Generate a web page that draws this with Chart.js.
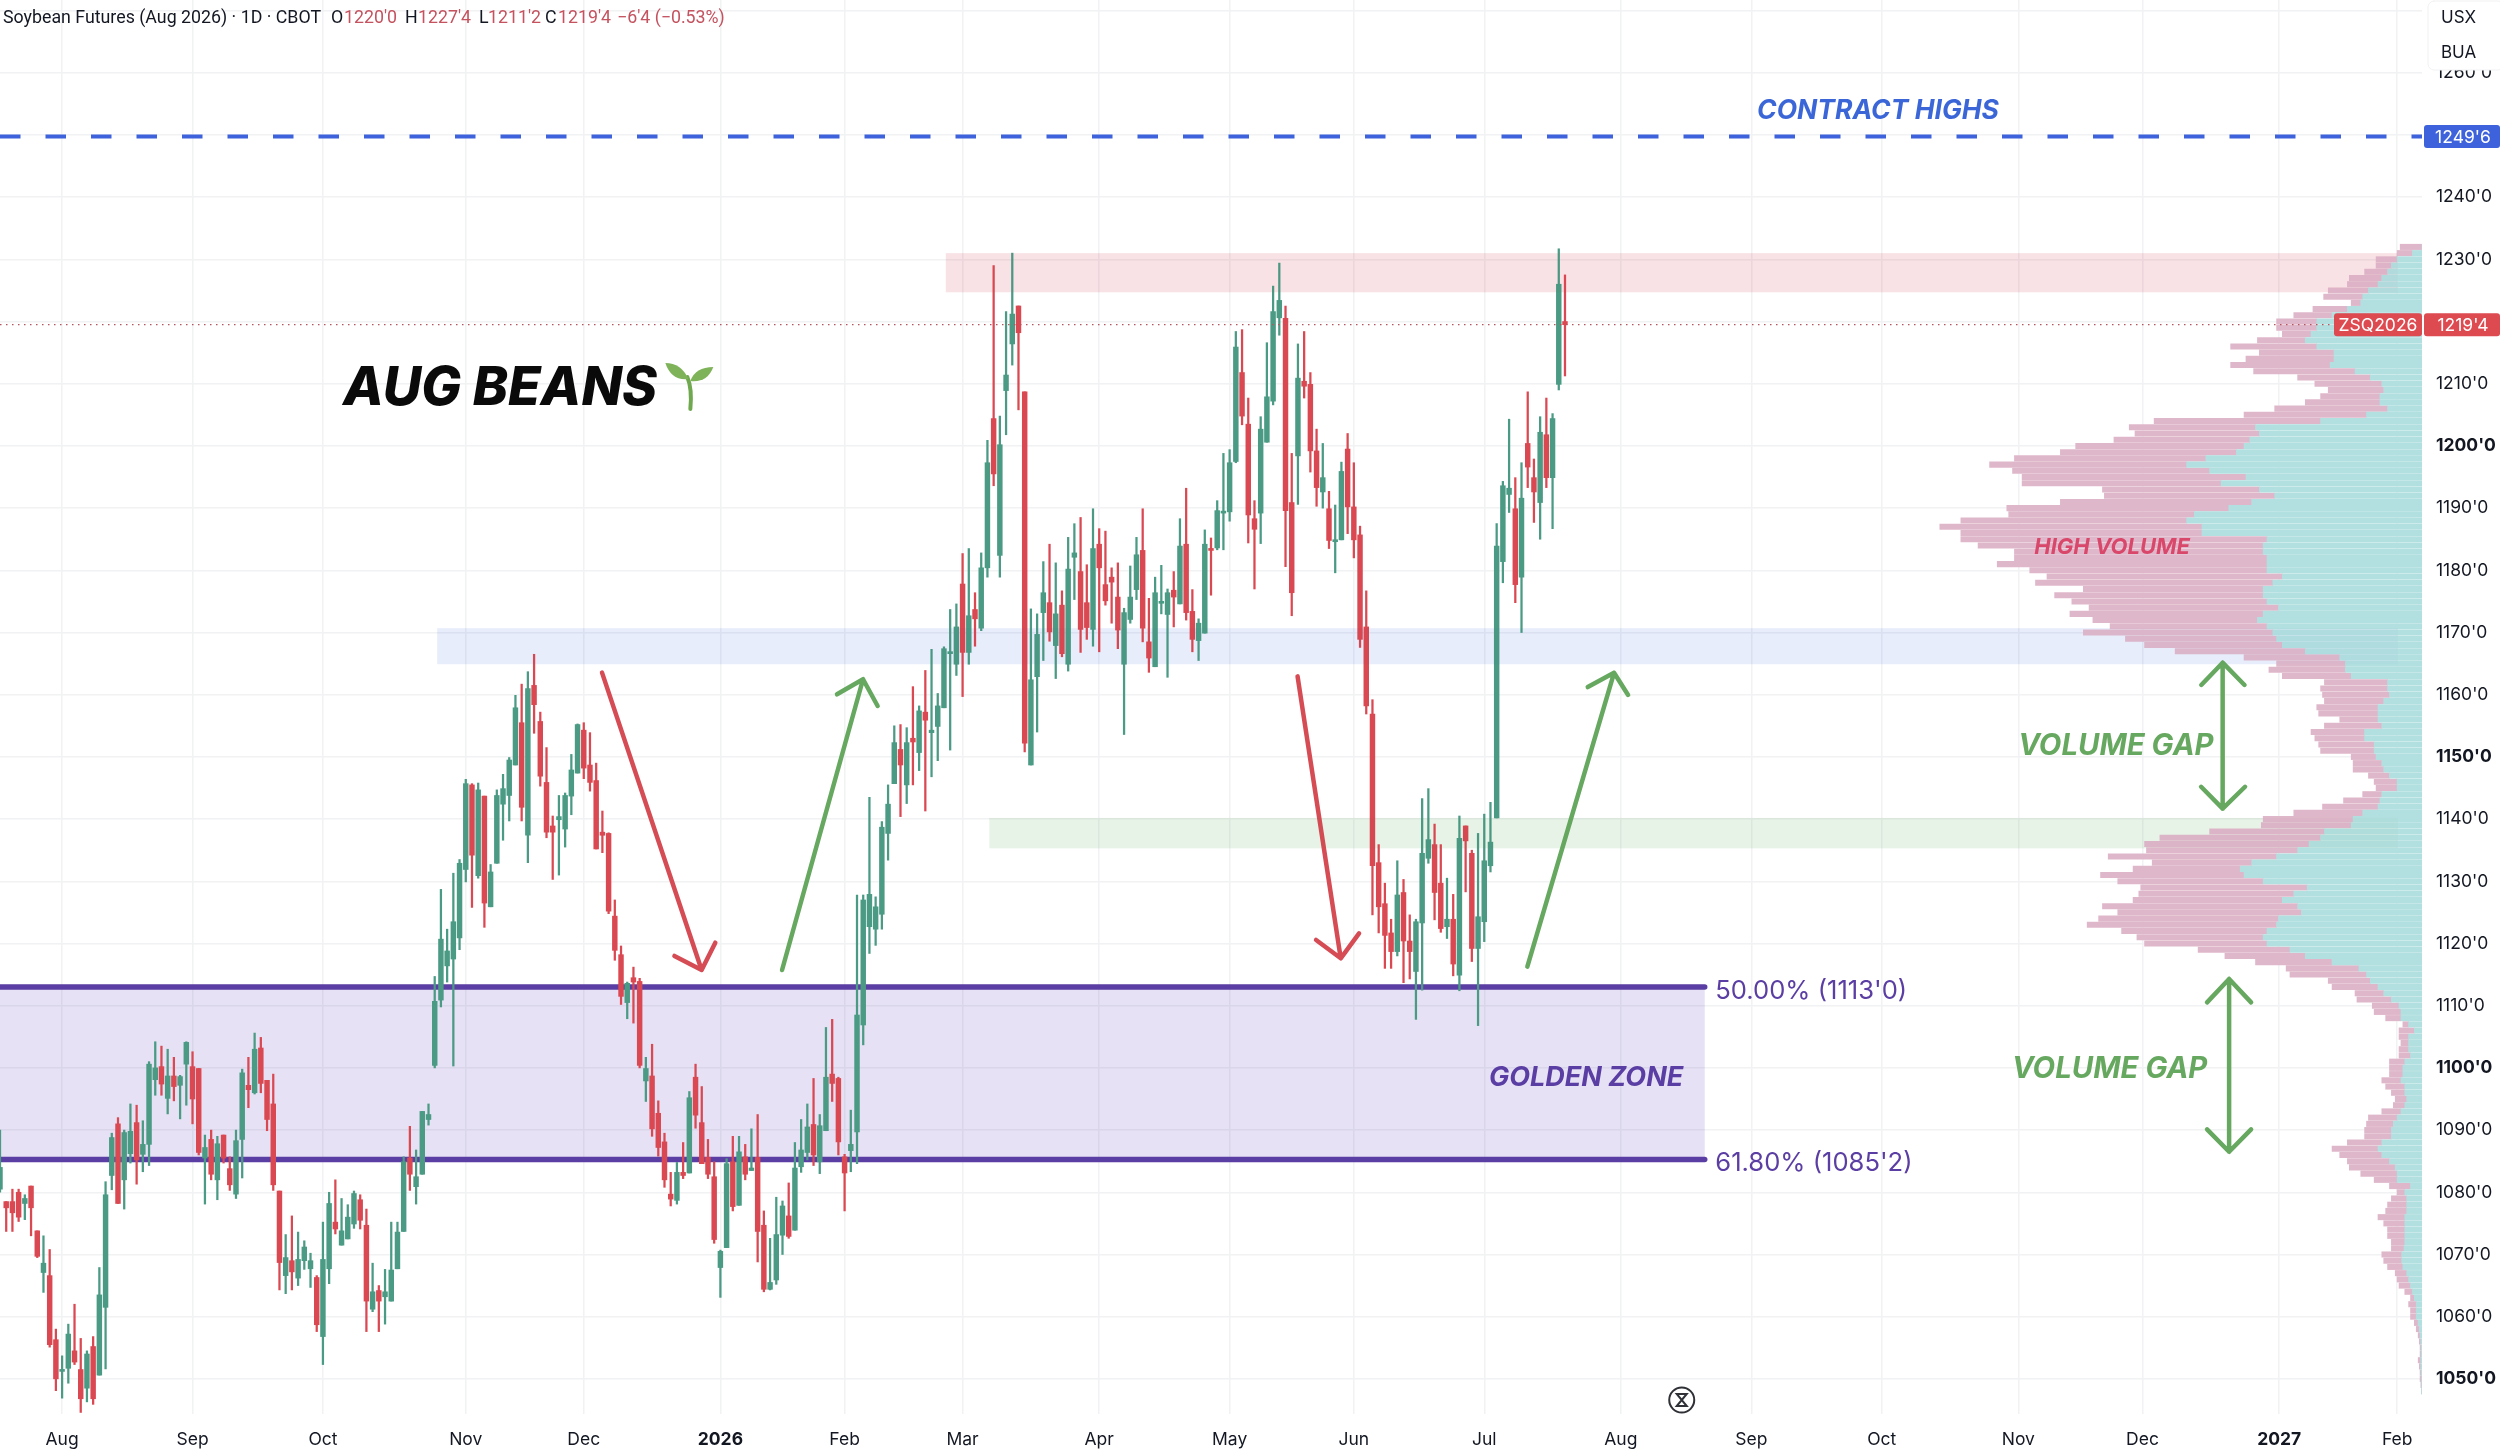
<!DOCTYPE html>
<html>
<head>
<meta charset="utf-8">
<title>Soybean Futures (Aug 2026)</title>
<script src="https://cdn.jsdelivr.net/npm/chart.js@4/dist/chart.umd.min.js"></script>
<style>
  html, body { margin: 0; padding: 0; background: #fff; }
  canvas { display: block; }
</style>
</head>
<body>
<canvas id="chart" width="2500" height="1452"></canvas>
<script>
// Daily candles, one entry per trading day
const opens = [
  1080.5,1078.5,1078.5,1080,1078.2,1081,1073.8,1067.1,1066.6,1056.3,
  1051.2,1051.7,1054.5,1051.5,1048.5,1055.2,1050.6,1061.5,1082.7,1091,
  1082,1086.2,1091.2,1086.1,1087.7,1098.1,1100.2,1095.1,1098.7,1097.2,
  1100.6,1100.2,1099.9,1085.5,1088.5,1082,1089.2,1083.8,1079.7,1088.5,
  1097.2,1096,1103.2,1098,1094.2,1080.2,1066.6,1069,1066.2,1069,
  1067.7,1066.3,1056.8,1067.7,1075.2,1071.5,1072.5,1074.9,1078.8,1074.7,
  1061.2,1064.2,1063.2,1062.5,1067.7,1073.7,1085.5,1080.9,1082.9,1091.7,
  1100.4,1110.9,1116.4,1117.5,1120.9,1131.9,1145.5,1130.9,1143.7,1125.9,
  1132.9,1142.4,1143.8,1148.7,1155.5,1137.4,1161.5,1155.7,1145.9,1138.9,
  1139.9,1138.4,1143.7,1147.4,1154.3,1148.7,1146.2,1137.9,1137.7,1124.4,
  1118.2,1110.5,1114.5,1113.9,1097.9,1098.7,1092.7,1088.1,1079.7,1078.7,
  1083.2,1083.1,1098.5,1091.2,1085.6,1082.5,1067.9,1071.1,1084.9,1077.9,
  1085.7,1083.5,1085.6,1074.7,1064.4,1065.9,1073.1,1076.2,1073.9,1084.1,
  1086.4,1090.9,1084.9,1089.9,1099,1098.3,1085.7,1086.7,1089.7,1106.9,
  1122.7,1122.3,1124.7,1137.7,1145.7,1151.2,1145.5,1153,1150.7,1157.2,
  1153.9,1154.9,1157.9,1166.6,1164.9,1177.8,1166.8,1173.7,1170.7,1180.4,
  1204.4,1182.4,1208.9,1216.4,1222.5,1208.7,1148.7,1162.9,1173.2,1174.8,
  1167.9,1174.4,1164.9,1182.1,1179.8,1174.8,1170.5,1184.2,1177.7,1178.9,
  1175.7,1164.9,1172.1,1176.9,1183.2,1168.5,1164.5,1174.7,1172.9,1176.8,
  1174.6,1184.2,1173.4,1168.7,1169.9,1183.5,1183.6,1189.2,1189.4,1197.5,
  1211.8,1203.5,1188.3,1189.2,1200.6,1207.2,1220.6,1220.5,1190.9,1198.4,
  1210.4,1209.9,1199.2,1192.6,1189.9,1184.6,1184.9,1199.5,1190.2,1185.7,
  1170.9,1156.9,1133,1126.4,1121.7,1118.7,1128.2,1120.4,1115.5,1123.3,
  1133.7,1135.9,1129.7,1122.7,1123.9,1114.9,1138.9,1134.5,1119.2,1123.5,
  1132.5,1140.2,1181.4,1192.2,1189.9,1178.9,1200.4,1194.9,1190.9,1201.8,
  1194.9,1209.9,1220
];
const closes = [
  1084,1077.5,1076.7,1076,1079,1077.5,1069.7,1068.6,1055.5,1050,
  1051.5,1057.2,1052.7,1046.8,1054,1046.8,1063.5,1079.6,1088.8,1078.2,
  1089.6,1089.8,1085.2,1087.7,1100.6,1100,1097.4,1098.7,1097,1098.6,
  1104.1,1095,1086.4,1087.2,1082.9,1087.8,1085.5,1081.2,1088.3,1099.2,
  1096.5,1103,1097.5,1091.7,1081.2,1068.7,1069.5,1067.2,1069.2,1071.2,
  1069,1058.7,1069.2,1078.2,1074.1,1073.8,1076,1079.8,1075.5,1062.5,
  1064,1062.5,1064,1067.5,1073.6,1084.9,1082.9,1082.5,1093,1092.5,
  1110.7,1120.7,1118.8,1123.5,1132.9,1145.7,1134.2,1144.7,1126.5,1131.5,
  1143.8,1144.9,1149.5,1157.9,1141.9,1161,1158.4,1146.9,1137.9,1137.9,
  1140.4,1143.8,1147.9,1155.2,1148.2,1145.9,1135.2,1137.4,1125.2,1118.9,
  1111.5,1113.6,1113.8,1100.4,1099.9,1090.2,1087.2,1082,1078.9,1083.2,
  1082.7,1095.2,1092.4,1084.6,1082.9,1072.4,1070.5,1084.6,1077.7,1086.5,
  1082.9,1083.9,1073.7,1064.4,1065.5,1073.2,1077.8,1072.9,1083.9,1086.8,
  1090.5,1086,1090.7,1098.5,1097.5,1088.1,1083.1,1087.7,1108.5,1127,
  1127.9,1125.9,1138.7,1142.4,1152.3,1148.7,1152.3,1152.4,1157.4,1155.9,
  1154.3,1158.2,1167.4,1166.9,1170.9,1166.8,1172.7,1172.2,1180.4,1197.3,
  1195.5,1200.2,1211.4,1221.2,1218.2,1152.2,1162.4,1169.7,1176.4,1170.1,
  1173,1166.6,1180.2,1182.8,1170.5,1170.8,1183.5,1180.4,1175.1,1178.1,
  1170.4,1173.2,1175.7,1182.5,1170.7,1165.9,1176.4,1174.8,1176.4,1175.7,
  1183.9,1173.2,1168.9,1171.5,1184.2,1183.2,1189.6,1189.3,1197.3,1215.9,
  1204.8,1188.9,1186.6,1202.7,1207.9,1221.6,1223.4,1189.6,1176.4,1210.9,
  1209.6,1199.2,1193.3,1194.9,1184.8,1184.8,1195.9,1190.2,1184.9,1168.9,
  1158.2,1132.5,1125.9,1121.3,1118.7,1127.8,1120.4,1118.7,1123.5,1134.5,
  1136.7,1128.2,1122.4,1123.9,1116.7,1136.9,1136.5,1119.2,1124.3,1133.3,
  1136.3,1183.9,1193.6,1193.2,1177.7,1191.6,1196.6,1192.6,1202.2,1194.9,
  1204.4,1226,1219.5
];
const highs = [
  1090,1078.5,1080.5,1080.5,1079.6,1081,1073.8,1073,1070.8,1058,
  1053.7,1058.8,1062,1056.5,1054.5,1056.8,1067.9,1081.7,1089.5,1092,
  1090,1094.2,1094,1091.5,1101,1104.2,1103.5,1103,1101.7,1098.8,
  1104.2,1102.6,1099.9,1089.2,1090,1089,1089.2,1085.7,1090,1099.8,
  1101.7,1105.6,1104.9,1098,1099,1080.2,1073.2,1076.2,1073.6,1072.2,
  1070.2,1066.6,1075.2,1080,1082,1079,1078,1080.2,1079.6,1077.3,
  1068.6,1065,1067.6,1075.2,1075.2,1085.7,1090.6,1086.8,1093,1094.2,
  1114.7,1128.7,1122.3,1131.3,1133.5,1146.4,1145.7,1145.8,1143.7,1132.7,
  1144.7,1147.2,1149.9,1159.9,1161.7,1163.7,1166.5,1157.2,1151.5,1140.5,
  1143.8,1144.2,1150.4,1155.3,1155.5,1153.9,1149,1141.3,1137.8,1127,
  1119.6,1113.8,1116.2,1114.4,1101.7,1103.8,1094.7,1089.5,1083.2,1084.8,
  1088,1096.2,1100.6,1097,1088.5,1084.9,1070.7,1085.4,1089,1089,
  1087.7,1090.2,1092.5,1077,1072.6,1079.2,1078.6,1081.5,1088,1091.7,
  1094.2,1098.3,1092.5,1106.5,1107.8,1098.5,1086.1,1093.2,1127.8,1127.8,
  1143.5,1127.5,1139.6,1145.5,1155,1155.2,1154.7,1161.3,1158.2,1163.9,
  1167.3,1160.2,1167.7,1173.7,1174.6,1182.7,1183.5,1176.4,1182.8,1200.9,
  1229,1204.8,1221.6,1231,1222.5,1208.7,1173.8,1173,1181.4,1184.2,
  1181.2,1176.7,1185.3,1187.5,1188.5,1180.9,1189.9,1186.7,1186.3,1180.4,
  1181.2,1173.9,1180.7,1185.3,1189.9,1175.5,1178.9,1180.8,1177,1179.8,
  1188.3,1193.2,1176.9,1172.2,1186.5,1185.2,1191.2,1198.8,1199.4,1218.4,
  1218.7,1207.7,1191.2,1204.7,1216.6,1225.7,1229.4,1222.5,1198.8,1216.4,
  1218.4,1211.8,1202.7,1200.4,1192.7,1190.5,1197.4,1202,1197.3,1187.1,
  1176.7,1159.2,1135.9,1129.7,1123.9,1133.3,1130.3,1124.6,1123.9,1143.3,
  1144.9,1139.2,1135.9,1130.5,1127.9,1140.5,1138.9,1135,1137.7,1140.8,
  1142.7,1187.5,1194.3,1204.3,1194.9,1197.3,1208.7,1197.9,1204.7,1207.7,
  1205.2,1231.7,1227.5
];
const lows = [
  1080,1073.7,1073.7,1075.3,1075.6,1073,1069.5,1063.9,1055.1,1048.1,
  1046.9,1049.3,1052.3,1044.6,1046.3,1045.9,1050.6,1051.6,1080.4,1078.2,
  1077.3,1084.7,1081.3,1083.3,1084.3,1095.6,1095.6,1092.6,1094.7,1091.8,
  1094,1091,1086,1078.1,1082,1078.8,1084.7,1080.3,1079,1082.3,
  1093.6,1095.8,1096,1089.9,1080.3,1064.3,1063.7,1064.3,1065,1067.6,
  1064.7,1057.6,1052.3,1065.3,1073.3,1071.5,1072.5,1074.2,1074.1,1057.6,
  1060.8,1057.6,1058.8,1062.5,1067.7,1073.7,1080.3,1078.1,1082.9,1090.8,
  1100,1109.8,1113.8,1100.3,1119,1129.9,1125.8,1130.5,1122.6,1125.9,
  1132.9,1136.6,1139.7,1148.7,1139.7,1133,1153.8,1145.3,1137,1130.3,
  1131,1135.5,1140.7,1147.4,1146.5,1144.5,1135.2,1134.6,1124.8,1117.3,
  1110.2,1107.9,1107.2,1100,1094.6,1089,1085.8,1080.8,1077.8,1078.1,
  1082.2,1083.1,1090.3,1084.6,1082.2,1071.8,1063.1,1071.1,1077,1077.9,
  1082,1083.5,1068.8,1064,1064.3,1065.2,1070,1072.6,1073.9,1083.2,
  1085.2,1084.3,1083,1089.9,1094.6,1086,1077,1083.3,1084.6,1103.7,
  1118.4,1119.7,1122.3,1133.4,1145.7,1140.4,1142.5,1145.5,1147.8,1141.3,
  1146.8,1149.4,1157.9,1151.1,1163.1,1159.7,1164.9,1167.8,1170.3,1178.9,
  1193.6,1178.9,1201.8,1213,1205.8,1150.8,1148.7,1154,1165.5,1168.6,
  1162.6,1166.1,1163.8,1175.3,1166.8,1168.9,1167.8,1166.9,1174.4,1171.5,
  1167.4,1153.6,1171.5,1175.3,1168.5,1163.6,1164.5,1173,1162.8,1170.9,
  1174.6,1172,1166.9,1165.5,1169.9,1176,1183.3,1183.3,1187.9,1197.3,
  1203.4,1184.4,1177,1184.3,1200.6,1206.6,1217.8,1180.6,1172.7,1190.6,
  1207.7,1195.8,1190.3,1190,1183.5,1179.6,1184.9,1185.9,1182,1167.6,
  1156.9,1124.6,1121.7,1116,1116,1118,1113.7,1114.3,1107.8,1112.5,
  1132.9,1123.8,1121.8,1120.8,1114.8,1112.4,1128.3,1117.1,1106.8,1120.3,
  1131.5,1140.2,1178,1189.3,1174.8,1170,1193.3,1187.7,1185,1193.3,
  1186.7,1209,1211.25
];

// Volume profile, one row per price, relative volume
const profilePrices = [
  1232,1231,1230,1229,1228,1227,1226,1225,1224,1223,1222,1221,1220,1219,1218,1217,1216,1215,1214,1213,
  1212,1211,1210,1209,1208,1207,1206,1205,1204,1203,1202,1201,1200,1199,1198,1197,1196,1195,1194,1193,
  1192,1191,1190,1189,1188,1187,1186,1185,1184,1183,1182,1181,1180,1179,1178,1177,1176,1175,1174,1173,
  1172,1171,1170,1169,1168,1167,1166,1165,1164,1163,1162,1161,1160,1159,1158,1157,1156,1155,1154,1153,
  1152,1151,1150,1149,1148,1147,1146,1145,1144,1143,1142,1141,1140,1139,1138,1137,1136,1135,1134,1133,
  1132,1131,1130,1129,1128,1127,1126,1125,1124,1123,1122,1121,1120,1119,1118,1117,1116,1115,1114,1113,
  1112,1111,1110,1109,1108,1107,1106,1105,1104,1103,1102,1101,1100,1099,1098,1097,1096,1095,1094,1093,
  1092,1091,1090,1089,1088,1087,1086,1085,1084,1083,1082,1081,1080,1079,1078,1077,1076,1075,1074,1073,
  1072,1071,1070,1069,1068,1067,1066,1065,1064,1063,1062,1061,1060,1059,1058,1057,1056,1055,1054,1053,
  1052,1051,1050,1049,1048
];
const upVolume = [
  0,25,65,80,90,105,115,140,155,160,195,235,275,275,290,305,275,230,230,240,
  175,135,105,100,110,110,90,145,265,435,425,450,465,485,565,615,555,460,525,425,
  385,445,505,595,615,575,575,405,415,415,405,405,405,365,390,415,415,405,375,415,
  430,405,390,380,365,305,215,200,200,185,90,90,85,100,115,115,115,105,150,150,
  125,125,120,105,100,85,65,65,105,110,115,155,180,185,255,265,295,325,380,445,
  475,465,415,300,335,365,325,315,375,380,405,415,405,345,305,235,165,145,135,115,
  100,80,60,55,55,35,20,35,35,35,30,45,50,50,55,45,45,40,45,55,
  65,75,80,80,105,115,105,85,70,65,65,30,45,40,40,40,45,45,45,45,
  45,47,53,53,50,40,35,30,25,20,15,15,15,10,7,5,3,2,2,3,
  3,2,1,1,1
];
const downVolume = [
  57,40,55,40,60,85,80,105,102,25,90,100,105,105,75,125,225,195,230,260,
  265,190,175,145,155,195,295,320,435,330,325,355,440,460,500,515,515,585,520,410,
  445,500,580,485,590,685,630,800,745,650,660,705,620,615,620,470,545,510,495,505,
  430,410,495,395,360,340,250,180,200,180,165,175,175,155,160,155,100,150,140,130,
  145,140,65,75,80,55,60,55,50,95,145,180,235,235,300,420,430,395,440,260,
  280,375,380,435,405,390,510,480,470,495,380,330,320,240,210,200,190,200,110,120,
  75,90,70,70,40,15,40,25,20,25,30,40,35,35,50,50,35,30,30,50,
  75,70,70,70,90,120,110,110,120,95,60,55,20,40,50,55,70,55,45,45,
  35,33,52,47,40,30,30,30,20,10,20,15,15,10,8,5,4,3,3,7,
  4,3,4,2,0
];

// Axis ticks
const monthBars = [10,31,52,75,94,116,136,155,177,198,218,239,261,282,303,325,345,367,386];
const monthLabels = ['Aug','Sep','Oct','Nov','Dec','2026','Feb','Mar','Apr','May','Jun','Jul','Aug','Sep','Oct','Nov','Dec','2027','Feb'];
const priceTicks = [1050,1060,1070,1080,1090,1100,1110,1120,1130,1140,1150,1160,1170,1180,1190,1200,1210,1220,1230,1240,1250,1260,1270];

// Levels
const contractHigh = 1249.75;
const lastPrice = 1219.5;
const fibHigh = 1113;
const fibLow = 1085.25;

// Shaded zones: first bar, last bar, low price, high price
const resistanceZone = [152.3, 386.1, 1224.7, 1231];
const midZone = [70.4, 386.1, 1164.9, 1170.7];
const supportZone = [159.3, 386.1, 1135.3, 1140.2];
const goldenZone = [0, 274.5, fibLow, fibHigh];

// Hand drawn arrows: [bar, price] along each stroke
const redArrow1 = [[96.94,1163.55],[112.98,1115.74],[108.6,1118],[112.98,1115.74],[115.18,1120.13]];
const greenArrow1 = [[125.93,1115.74],[138.97,1162.49],[134.78,1160.07],[138.97,1162.49],[141.32,1158.19]];
const redArrow2 = [[208.94,1162.95],[215.89,1117.62],[211.92,1120.57],[215.89,1117.62],[218.84,1121.64]];
const greenArrow2 = [[245.94,1116.27],[259.9,1163.52],[255.67,1161.23],[259.9,1163.52],[262.16,1159.96]];
const gapArrow1 = [[354.46,1161.57],[357.9,1165.15],[361.42,1161.57],[357.9,1165.15],[357.9,1141.68],[354.43,1145.2],[357.9,1141.68],[361.51,1145.2]];
const gapArrow2 = [[355.39,1110.53],[358.94,1114.3],[362.48,1110.53],[358.94,1114.3],[358.94,1086.51],[355.39,1090.11],[358.94,1086.51],[362.48,1090.11]];

const GREEN = '#4a9a84';
const RED = '#da4852';
const PURPLE = '#5b3ea3';
const ARROW_GREEN = '#66a85f';
const ARROW_RED = '#d64c55';
const BLUE = '#3d62dc';
const ZONE_RED = '#fae7e9';
const ZONE_BLUE = '#ebf0fc';
const ZONE_GREEN = '#ecf5ec';
const FONT = 'Inter, "Liberation Sans", sans-serif';

const candleColors = opens.map((o, i) => (closes[i] >= o ? GREEN : RED));

function strokeDataset(points, color, width, order, dash) {
  return {
    type: 'line',
    data: points.map(([x, y]) => ({ x, y })),
    borderColor: color,
    borderWidth: width,
    borderDash: dash || [],
    borderCapStyle: dash ? 'butt' : 'round',
    borderJoinStyle: 'round',
    pointRadius: 0,
    tension: 0,
    order,
  };
}

function fillZone(chart, [x0, x1, lo, hi], color) {
  const { ctx, scales: { x, y } } = chart;
  ctx.fillStyle = color;
  ctx.fillRect(x.getPixelForValue(x0), y.getPixelForValue(hi),
    x.getPixelForValue(x1) - x.getPixelForValue(x0), y.getPixelForValue(lo) - y.getPixelForValue(hi));
}

// Zones, notes and the price labels that are not part of the scales
const overlayPlugin = {
  id: 'overlay',
  beforeDatasetsDraw(chart) {
    fillZone(chart, goldenZone, 'rgba(88,55,182,0.15)');
    chart.ctx.save();
    chart.ctx.globalCompositeOperation = 'multiply';
    fillZone(chart, resistanceZone, ZONE_RED);
    fillZone(chart, midZone, ZONE_BLUE);
    fillZone(chart, supportZone, ZONE_GREEN);
    chart.ctx.restore();
  },
  afterDatasetsDraw(chart) {
    // the zones show faintly through the profile
    const { ctx } = chart;
    ctx.save();
    ctx.globalCompositeOperation = 'multiply';
    ctx.globalAlpha = 0.2;
    fillZone(chart, resistanceZone, ZONE_RED);
    fillZone(chart, midZone, ZONE_BLUE);
    fillZone(chart, supportZone, ZONE_GREEN);
    ctx.restore();
  },
  afterDraw(chart) {
    const { ctx, scales: { x, y } } = chart;
    const text = (str, bar, price, font, color, align) => {
      ctx.font = font;
      ctx.fillStyle = color;
      ctx.textAlign = align || 'center';
      ctx.textBaseline = 'middle';
      ctx.fillText(str, x.getPixelForValue(bar), y.getPixelForValue(price) + 3);
    };
    ctx.save();
    text('CONTRACT HIGHS', 302.4, 1254.35, 'italic 700 26.5px ' + FONT, '#3b66d8');
    text('AUG BEANS', 80.5, 1209.6, 'italic 800 53px ' + FONT, '#0a0a0a');
    text("50.00% (1113'0)", 276.2, 1112.8, '25.6px ' + FONT, PURPLE, 'left');
    text("61.80% (1085'2)", 276.2, 1085.1, '25.6px ' + FONT, PURPLE, 'left');
    text('GOLDEN ZONE', 255.4, 1098.9, 'italic 700 27px ' + FONT, PURPLE);
    text('HIGH VOLUME', 340.1, 1184.2, 'italic 700 22px ' + FONT, '#d9476a');
    text('VOLUME GAP', 340.7, 1152.2, 'italic 700 29.3px ' + FONT, ARROW_GREEN);
    text('VOLUME GAP', 339.7, 1100.2, 'italic 700 29.3px ' + FONT, ARROW_GREEN);

    // sprout next to the title
    const sx = x.getPixelForValue(111), sy = y.getPixelForValue(1209.8);
    ctx.strokeStyle = '#6fa84f';
    ctx.fillStyle = '#7fb35a';
    ctx.lineWidth = 4;
    ctx.lineCap = 'round';
    ctx.beginPath();
    ctx.moveTo(sx + 1, sy + 24);
    ctx.quadraticCurveTo(sx + 3, sy + 4, sx - 2, sy - 8);
    ctx.stroke();
    ctx.beginPath();
    ctx.moveTo(sx - 1, sy - 6);
    ctx.quadraticCurveTo(sx - 8, sy - 22, sx - 24, sy - 22);
    ctx.quadraticCurveTo(sx - 18, sy - 4, sx - 1, sy - 6);
    ctx.fill();
    ctx.beginPath();
    ctx.moveTo(sx + 1, sy - 4);
    ctx.quadraticCurveTo(sx + 6, sy - 18, sx + 24, sy - 18);
    ctx.quadraticCurveTo(sx + 18, sy - 2, sx + 1, sy - 4);
    ctx.fill();

    // clock icon over the time axis
    const cx = x.getPixelForValue(270.8), cy = 1400;
    ctx.strokeStyle = '#2f3136';
    ctx.lineWidth = 2;
    ctx.beginPath();
    ctx.arc(cx, cy, 12.5, 0, Math.PI * 2);
    ctx.stroke();
    ctx.beginPath();
    ctx.moveTo(cx - 5, cy - 6);
    ctx.lineTo(cx + 5, cy - 6);
    ctx.lineTo(cx - 5, cy + 6);
    ctx.lineTo(cx + 5, cy + 6);
    ctx.closePath();
    ctx.stroke();

    // header row
    ctx.textBaseline = 'middle';
    ctx.textAlign = 'left';
    ctx.font = '17.8px Roboto, ' + FONT;
    const header = [
      ['Soybean Futures (Aug 2026) · 1D · CBOT', 3, '#131722'],
      ['O', 331, '#131722'], ["1220'0", 344, '#c4525f'],
      ['H', 405, '#131722'], ["1227'4", 418, '#c4525f'],
      ['L', 479, '#131722'], ["1211'2", 488, '#c4525f'],
      ['C', 545, '#131722'], ["1219'4", 558, '#c4525f'],
      ["−6'4 (−0.53%)", 617, '#c4525f'],
    ];
    header.forEach(([str, px, color]) => { ctx.fillStyle = color; ctx.fillText(str, px, 19); });

    // price labels on the scale
    const tag = (left, right, price, color, str) => {
      const py = y.getPixelForValue(price);
      ctx.fillStyle = color;
      ctx.beginPath();
      ctx.roundRect(left, py - 11.5, right - left, 23, 3);
      ctx.fill();
      ctx.fillStyle = '#fff';
      ctx.font = '17.5px ' + FONT;
      ctx.textAlign = 'center';
      ctx.fillText(str, (left + right) / 2 + (right > 2490 ? 1 : 0), py + 1);
    };
    tag(2424, 2500, contractHigh, BLUE, "1249'6");
    tag(2334, 2422, lastPrice, '#dd4a50', 'ZSQ2026');
    tag(2424, 2500, lastPrice, '#dd4a50', "1219'4");

    // currency and unit box
    ctx.fillStyle = '#fff';
    ctx.strokeStyle = '#f0f1f3';
    ctx.lineWidth = 1;
    ctx.beginPath();
    ctx.roundRect(2428, 1, 76, 69, 6);
    ctx.fill();
    ctx.stroke();
    ctx.fillStyle = '#131722';
    ctx.font = '17px ' + FONT;
    ctx.textAlign = 'left';
    ctx.fillText('USX', 2441, 18);
    ctx.fillText('BUA', 2441, 53);
    ctx.restore();
  },
};

new Chart(document.getElementById('chart'), {
  type: 'bar',
  data: {
    datasets: [
      strokeDataset(redArrow1, ARROW_RED, 4.5, 0),
      strokeDataset(greenArrow1, ARROW_GREEN, 4.5, 0),
      strokeDataset(redArrow2, ARROW_RED, 4.5, 0),
      strokeDataset(greenArrow2, ARROW_GREEN, 4.5, 0),
      strokeDataset(gapArrow1, ARROW_GREEN, 4.5, 0),
      strokeDataset(gapArrow2, ARROW_GREEN, 4.5, 0),
      strokeDataset([[0, contractHigh], [390, contractHigh]], BLUE, 4, 1, [20.5, 25]),
      strokeDataset([[0, lastPrice], [376, lastPrice]], '#b5545c', 1.2, 1, [1.5, 4.5]),
      {
        // candle bodies
        data: opens.map((o, i) => ({ x: i, y: [o, closes[i]] })),
        backgroundColor: candleColors,
        barThickness: 4.8,
        minBarLength: 2,
        grouped: false,
        order: 2,
      },
      {
        // wicks
        data: lows.map((l, i) => ({ x: i, y: [l, highs[i]] })),
        backgroundColor: candleColors,
        barThickness: 1.6,
        grouped: false,
        order: 3,
      },
      strokeDataset([[0, fibHigh], [274.5, fibHigh]], PURPLE, 5.5, 4),
      strokeDataset([[0, fibLow], [274.5, fibLow]], PURPLE, 5.5, 4),
      {
        // profile, buy side against the scale
        indexAxis: 'y',
        xAxisID: 'vol',
        yAxisID: 'y',
        data: profilePrices.map((p, i) => ({ y: p, x: [0, upVolume[i]] })),
        backgroundColor: '#b2dfe0',
        barThickness: 5.4,
        grouped: false,
        order: 5,
      },
      {
        // profile, sell side stacked on top
        indexAxis: 'y',
        xAxisID: 'vol',
        yAxisID: 'y',
        data: profilePrices.map((p, i) => ({ y: p, x: [upVolume[i], upVolume[i] + downVolume[i]] })),
        backgroundColor: '#dfb7ca',
        barThickness: 5.4,
        grouped: false,
        order: 5,
      },
    ],
  },
  options: {
    responsive: false,
    animation: false,
    devicePixelRatio: 1,
    layout: { padding: 0 },
    plugins: { legend: { display: false }, tooltip: { enabled: false } },
    scales: {
      x: {
        type: 'linear',
        min: 0,
        max: 390,
        offset: false,
        grid: { offset: false, color: '#f1f2f4', lineWidth: 1.5, drawTicks: false },
        border: { display: false },
        afterFit: (axis) => { axis.height = 38; axis.paddingLeft = 0; axis.paddingRight = 0; },
        afterBuildTicks: (axis) => { axis.ticks = monthBars.map((value) => ({ value })); },
        ticks: {
          autoSkip: false,
          maxRotation: 0,
          padding: 15,
          color: '#131722',
          font: (c) => {
            const label = monthLabels[monthBars.indexOf(c.tick ? c.tick.value : -1)];
            const bold = label === '2026' || label === '2027';
            return { family: FONT, size: 17.5, weight: bold ? '700' : '400' };
          },
          callback: (v) => monthLabels[monthBars.indexOf(v)],
        },
      },
      y: {
        type: 'linear',
        position: 'right',
        min: 1044.35,
        max: 1271.7,
        offset: false,
        grid: { offset: false, color: '#f1f2f4', lineWidth: 1.5, drawTicks: false },
        border: { display: false },
        afterFit: (axis) => { axis.width = 78; axis.paddingTop = 0; axis.paddingBottom = 0; },
        afterBuildTicks: (axis) => { axis.ticks = priceTicks.map((value) => ({ value })); },
        ticks: {
          autoSkip: false,
          padding: 14,
          color: '#131722',
          font: (c) => {
            const bold = c.tick && c.tick.value % 50 === 0;
            return { family: FONT, size: 17.5, weight: bold ? '700' : '400' };
          },
          callback: (v) => v + "'0",
        },
      },
      vol: {
        type: 'linear',
        axis: 'x',
        display: false,
        offset: false,
        reverse: true,
        min: 0,
        max: 6329,
      },
    },
  },
  plugins: [overlayPlugin],
});
</script>
</body>
</html>
